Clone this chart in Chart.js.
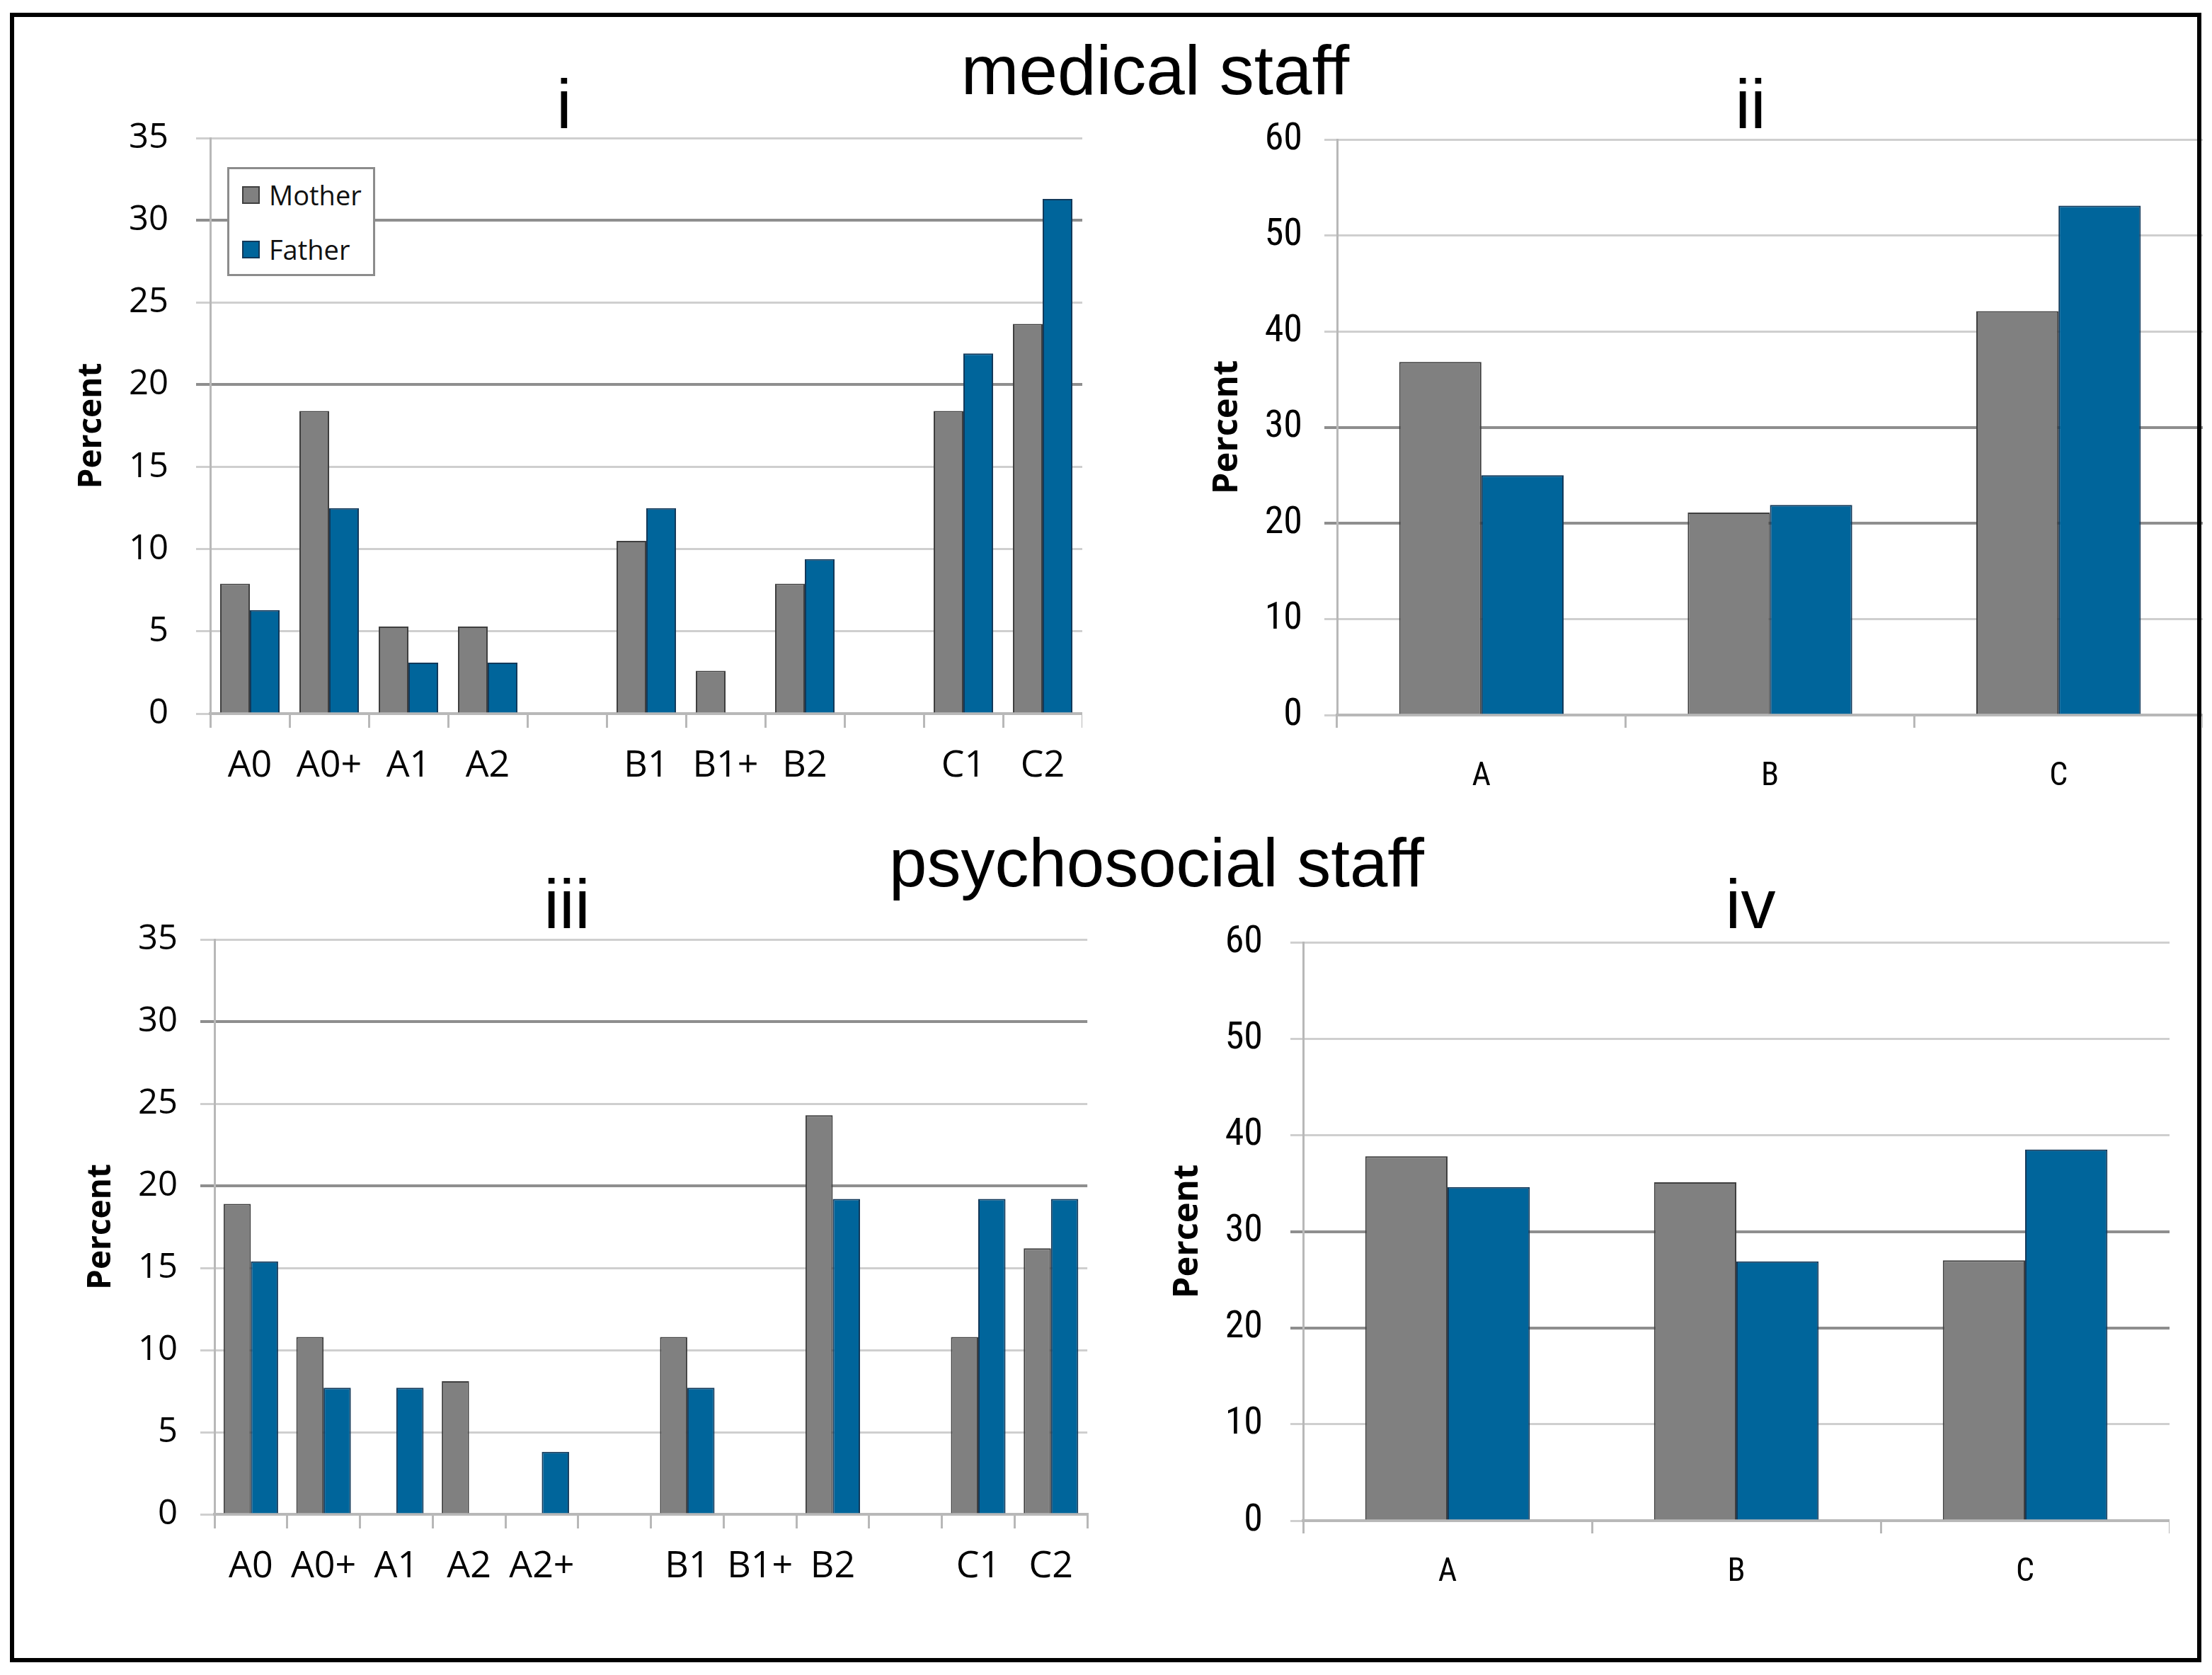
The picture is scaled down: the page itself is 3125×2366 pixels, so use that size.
<!DOCTYPE html>
<html>
<head>
<meta charset="utf-8">
<script src="https://cdn.jsdelivr.net/npm/chart.js@4.4.1/dist/chart.umd.min.js"></script>
<style>
  body { margin: 0; background: #fff; }
  #page { position: relative; width: 3125px; height: 2366px; overflow: hidden; background: #fff; }
  canvas { position: absolute; }
  .frame { position: absolute; left: 14px; top: 18px; width: 3096px; height: 2330px;
           border: 6px solid #000; box-sizing: border-box; z-index: 10; pointer-events: none; }
  .title { position: absolute; transform: translateX(-50%); font-family: 'Liberation Sans', Arial, sans-serif;
           font-size: 98px; line-height: 1; white-space: pre; color: #000; }
  .legend { position: absolute; left: 321px; top: 236px; width: 209px; height: 154px; box-sizing: border-box;
            border: 3px solid #8c8c8c; background: #fff; z-index: 5; }
  .legend .item { position: absolute; left: 18px; height: 40px; display: flex; align-items: center;
                  font-family: 'Open Sans', sans-serif; font-size: 38px; color: #111; }
  .legend .sw { width: 25px; height: 25px; box-sizing: border-box; border: 2px solid; margin-right: 13px; }
</style>
</head>
<body>
<div id="page">
  <div class="frame"></div>
  <div class="title" style="left:1632px; top:50px;">medical staff</div>
  <div class="title" style="left:1634px; top:1171px; font-size:96px;">psychosocial staff</div>
  <div class="title" style="left:797px; top:98px;">i</div>
  <div class="title" style="left:2473px; top:98px;">ii</div>
  <div class="title" style="left:801px; top:1228px;">iii</div>
  <div class="title" style="left:2473px; top:1228px;">iv</div>
  <canvas id="c1"></canvas>
  <canvas id="c2"></canvas>
  <canvas id="c3"></canvas>
  <canvas id="c4"></canvas>
  <div class="legend" id="legend"></div>
</div>
<script>
// panel i - medical staff, detailed categories
const catsI = ['A0', 'A0+', 'A1', 'A2', '', 'B1', 'B1+', 'B2', '', 'C1', 'C2'];
const motherI = [7.9, 18.4, 5.3, 5.3, null, 10.5, 2.6, 7.9, null, 18.4, 23.7];
const fatherI = [6.3, 12.5, 3.1, 3.1, null, 12.5, 0, 9.4, null, 21.9, 31.3];

// panel ii - medical staff, main categories
const catsII = ['A', 'B', 'C'];
const motherII = [36.8, 21.1, 42.1];
const fatherII = [25.0, 21.9, 53.1];

// panel iii - psychosocial staff, detailed categories
const catsIII = ['A0', 'A0+', 'A1', 'A2', 'A2+', '', 'B1', 'B1+', 'B2', '', 'C1', 'C2'];
const motherIII = [18.9, 10.8, 0, 8.1, 0, null, 10.8, 0, 24.3, null, 10.8, 16.2];
const fatherIII = [15.4, 7.7, 7.7, 0, 3.8, null, 7.7, 0, 19.2, null, 19.2, 19.2];

// panel iv - psychosocial staff, main categories
const catsIV = ['A', 'B', 'C'];
const motherIV = [37.8, 35.1, 27.0];
const fatherIV = [34.6, 26.9, 38.5];

const seriesNames = ['Mother', 'Father'];
const darkLines = [20, 30];
const NARROW = "'Liberation Sans Narrow', 'Roboto Condensed', 'DejaVu Sans Condensed', sans-serif";

function makeChart(id, box, labels, mother, father, cfg) {
    const cv = document.getElementById(id);
    cv.width = box.w;
    cv.height = box.h;
    cv.style.left = box.x + 'px';
    cv.style.top = box.y + 'px';

    return new Chart(cv, {
        type: 'bar',
        data: {
            labels: labels,
            datasets: [
                { label: seriesNames[0], data: mother, backgroundColor: '#808080', borderColor: '#3f3f3f',
                  borderWidth: 2, categoryPercentage: cfg.catPct, barPercentage: 1 },
                { label: seriesNames[1], data: father, backgroundColor: '#00659b', borderColor: '#12395a',
                  borderWidth: 2, categoryPercentage: cfg.catPct, barPercentage: 1 }
            ]
        },
        options: {
            responsive: false,
            animation: false,
            devicePixelRatio: 1,
            // top padding is larger than half a tick label + tick padding, so the plot starts exactly here
            layout: { padding: { top: 80, right: 0, bottom: 0, left: 0 } },
            plugins: { legend: { display: false }, tooltip: { enabled: false } },
            scales: {
                x: {
                    grid: { offset: true, drawOnChartArea: false, tickLength: cfg.xTick, color: '#b8b8b8', lineWidth: 3 },
                    border: { color: '#b8b8b8', width: 4 },
                    ticks: { font: cfg.xFont, color: '#000', padding: cfg.xPad, maxRotation: 0, autoSkip: false },
                    afterFit: s => { s.height = 120; }
                },
                y: {
                    min: 0,
                    max: cfg.max,
                    ticks: { stepSize: cfg.step, font: cfg.yFont, color: '#000', padding: cfg.yPad },
                    grid: {
                        color: c => (c.tick && darkLines.includes(c.tick.value)) ? '#8e8e8e' : '#cfcfcf',
                        lineWidth: c => (c.tick && darkLines.includes(c.tick.value)) ? 4 : 3,
                        tickLength: cfg.yTick
                    },
                    border: { color: '#b8b8b8', width: 3 },
                    title: { display: true, text: 'Percent', color: '#000', font: cfg.titleFont,
                             padding: { top: cfg.tPad, bottom: 0 } },
                    afterFit: s => { s.width = 200; }
                }
            }
        }
    });
}

const detailCfg = {
    catPct: 0.75, max: 35, step: 5,
    xFont: { family: 'Open Sans', size: 52 }, yFont: { family: 'Open Sans', size: 49 },
    titleFont: { family: 'Open Sans', size: 46, weight: 'bold' },
    xTick: 20, xPad: 23, yTick: 20
};
const mainCfg = {
    catPct: 0.57, max: 60, step: 10,
    xFont: { family: NARROW, size: 46 }, yFont: { family: NARROW, size: 54 },
    titleFont: { family: 'Open Sans', size: 49, weight: 'bold' },
    xTick: 18, yTick: 18
};

const chartI = makeChart('c1', { x: 97, y: 115, w: 1432, h: 1013 }, catsI, motherI, fatherI,
    Object.assign({}, detailCfg, { yPad: 39, tPad: 5 }));
makeChart('c2', { x: 1689, y: 117, w: 1423, h: 1013 }, catsII, motherII, fatherII,
    Object.assign({}, mainCfg, { yPad: 31, tPad: 16, xPad: 42 }));
makeChart('c3', { x: 103, y: 1247, w: 1436, h: 1012 }, catsIII, motherIII, fatherIII,
    Object.assign({}, detailCfg, { yPad: 32, tPad: 12 }));
makeChart('c4', { x: 1641, y: 1251, w: 1424, h: 1017 }, catsIV, motherIV, fatherIV,
    Object.assign({}, mainCfg, { yPad: 39, tPad: 8, xPad: 28 }));

// legend box inside panel i, built from the chart's datasets
const legendEl = document.getElementById('legend');
chartI.data.datasets.forEach((ds, i) => {
    const item = document.createElement('div');
    item.className = 'item';
    item.style.top = (16 + i * 77) + 'px';
    item.innerHTML = `<span class="sw" style="background:${ds.backgroundColor};border-color:${ds.borderColor}"></span>${ds.label}`;
    legendEl.appendChild(item);
});
</script>
</body>
</html>
